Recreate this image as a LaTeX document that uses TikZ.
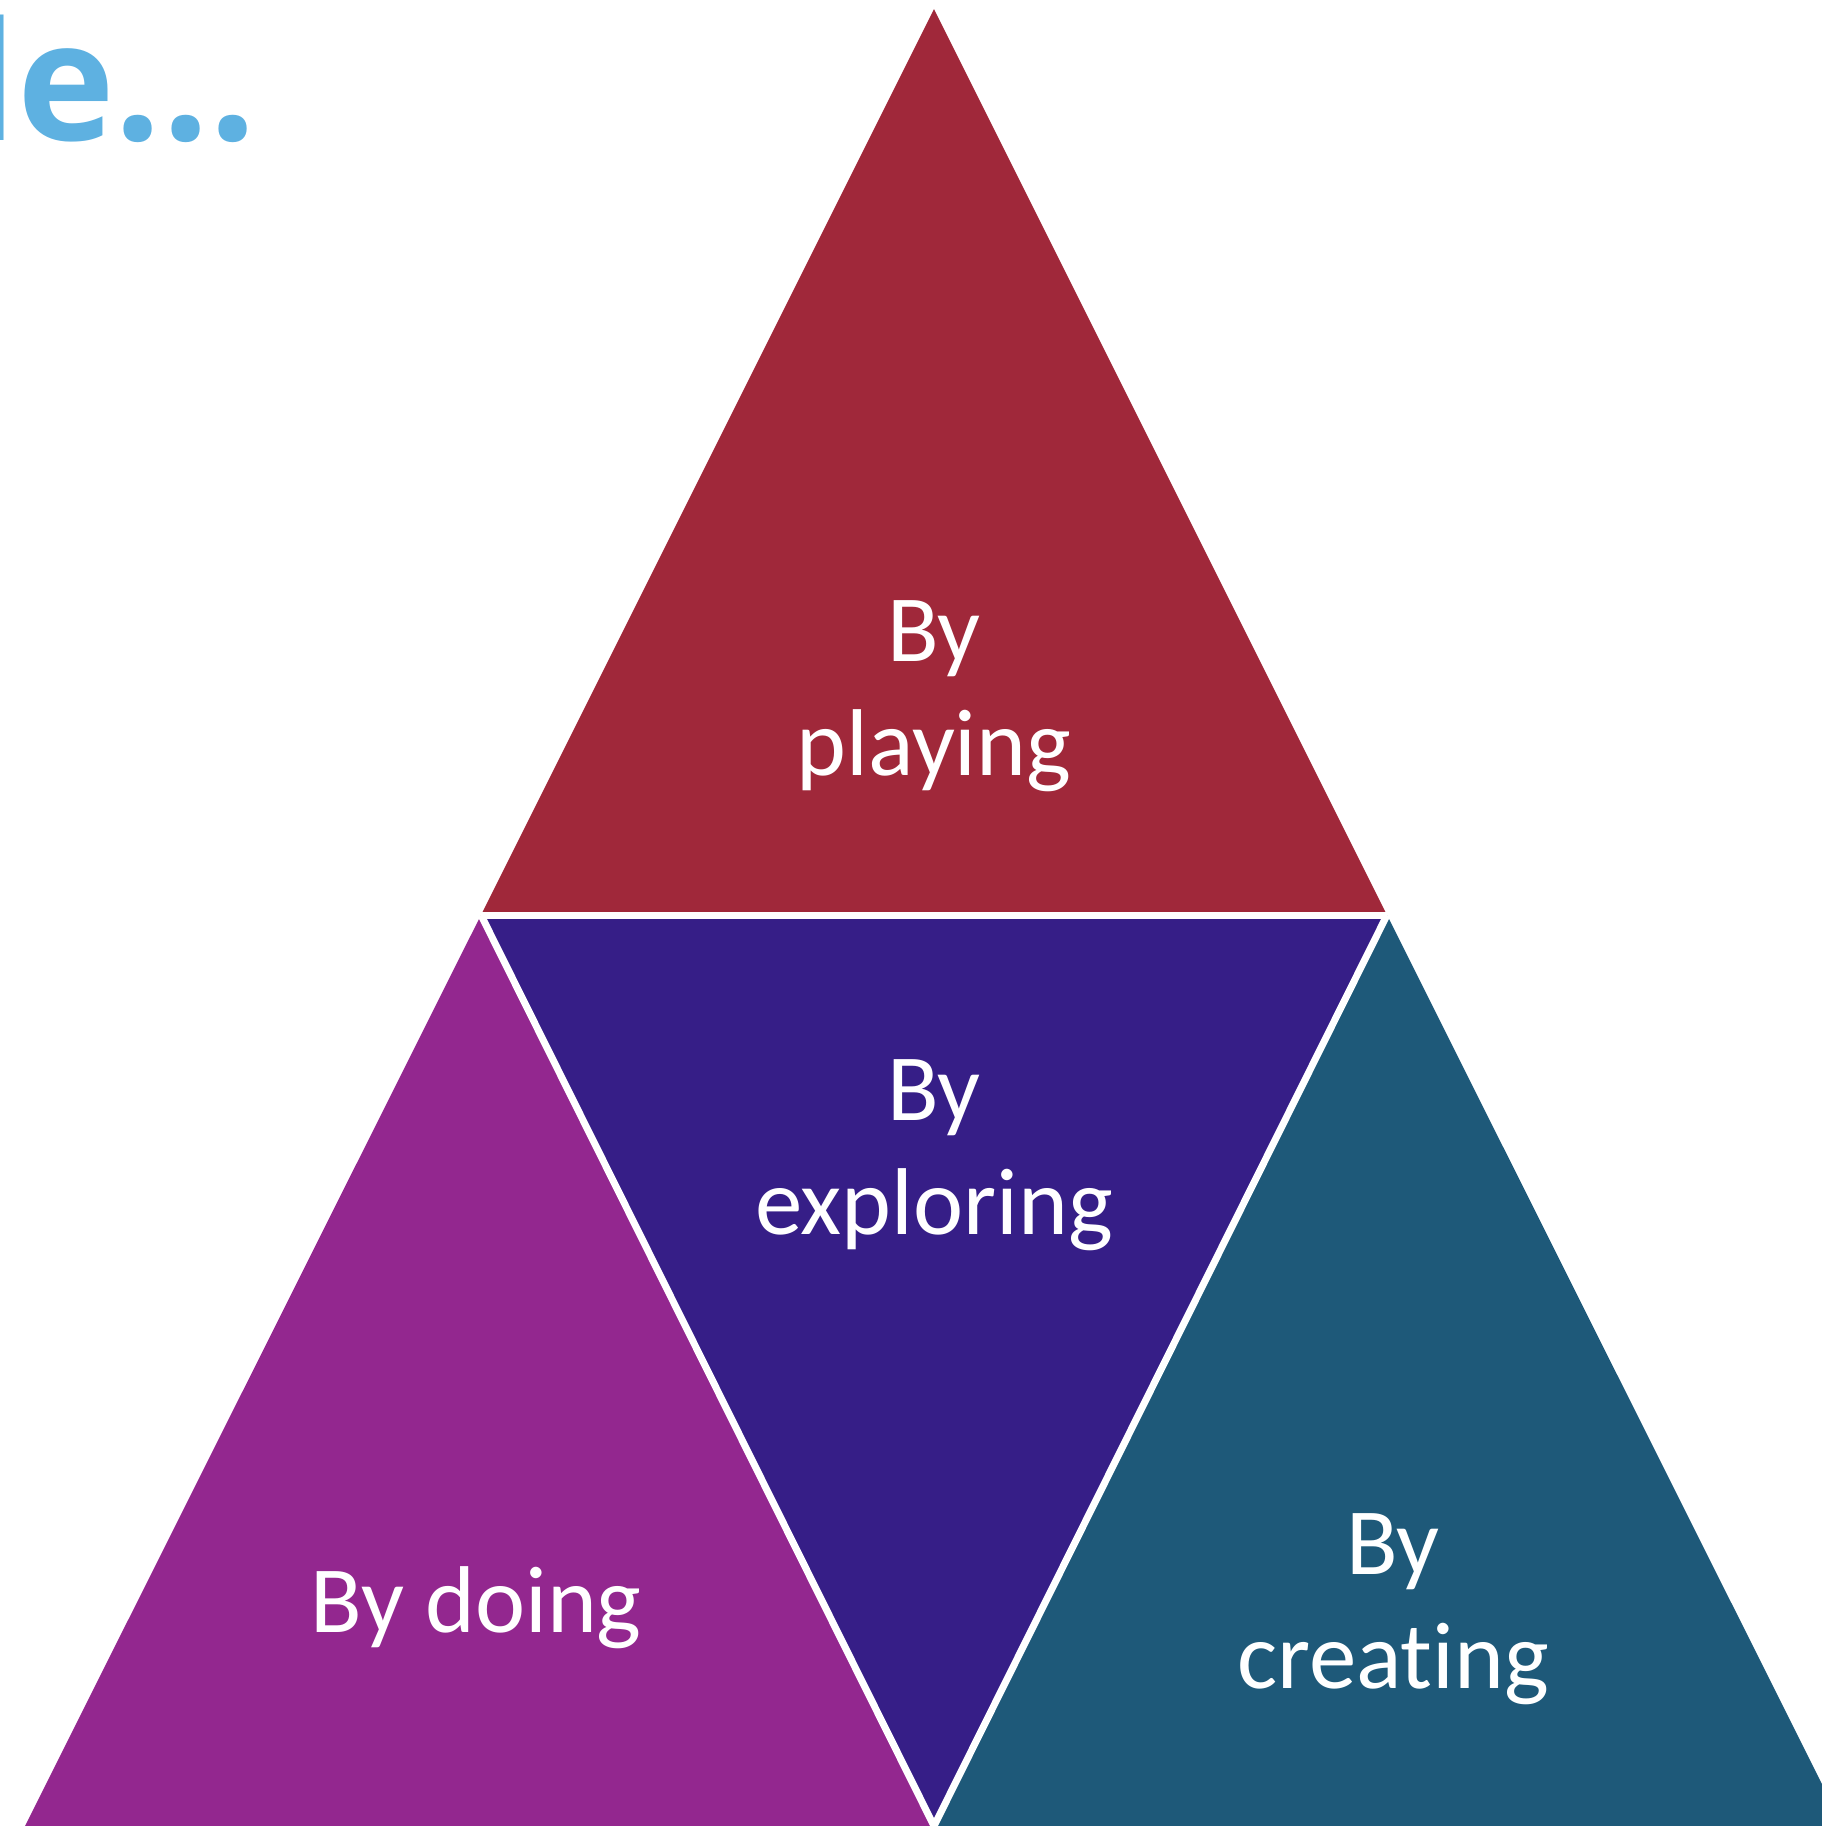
\documentclass[tikz,border=0pt]{standalone}
\usepackage{fontspec}
\setmainfont{Carlito}[Ligatures={NoCommon}]
\newfontfamily\titlefont{Open Sans}

\definecolor{playred}{HTML}{A0283A}
\definecolor{explorepurple}{HTML}{361E87}
\definecolor{domagenta}{HTML}{93278F}
\definecolor{createteal}{HTML}{1E5979}
\definecolor{titleblue}{HTML}{5EB1E1}

\begin{document}
\begin{tikzpicture}[
  labeltext/.style={text=white, align=center, anchor=base, inner sep=0pt,
    font=\fontsize{27}{32.4}\selectfont},
  gap/.style={white, line width=2pt}
]
  % \draw [help lines] (0,-18) grid (18,0);
  \useasboundingbox (0,0) rectangle (18.22,-18.26);
  \clip (0,0) rectangle (18.22,-18.26);

  \coordinate (apex) at (9.34,-0.09);
  \coordinate (midl) at (4.81,-9.15);
  \coordinate (midr) at (13.87,-9.15);
  \coordinate (low) at (9.34,-18.26);
  \coordinate (lowl) at (0.25,-18.26);
  \coordinate (lowr) at (18.43,-18.26);

  % title
  \node[anchor=base east, inner sep=0pt, text=titleblue,
    font=\titlefont\bfseries\fontsize{47}{56}\selectfont] (title) at (2.57,-1.40) {le...};

  % triangles
  \fill[playred] (apex) -- (midl) -- (midr) -- cycle;
  \fill[explorepurple] (midl) -- (midr) -- (low) -- cycle;
  \fill[domagenta] (midl) -- (lowl) -- (low) -- cycle;
  \fill[createteal] (midr) -- (low) -- (lowr) -- cycle;

  % white gaps
  \draw[gap] (midl) -- (midr);
  \draw[gap] (midl) -- (low);
  \draw[gap] (midr) -- (low);

  % labels (base = last line)
  \node[labeltext] (playing) at (9.34,-7.75) {By\\playing};
  \node[labeltext] (exploring) at (9.34,-12.34) {By\\exploring};
  \node[labeltext] (doing) at (4.76,-16.32) {By doing};
  \node[labeltext] (creating) at (13.93,-16.88) {By\\creating};
\end{tikzpicture}
\end{document}
